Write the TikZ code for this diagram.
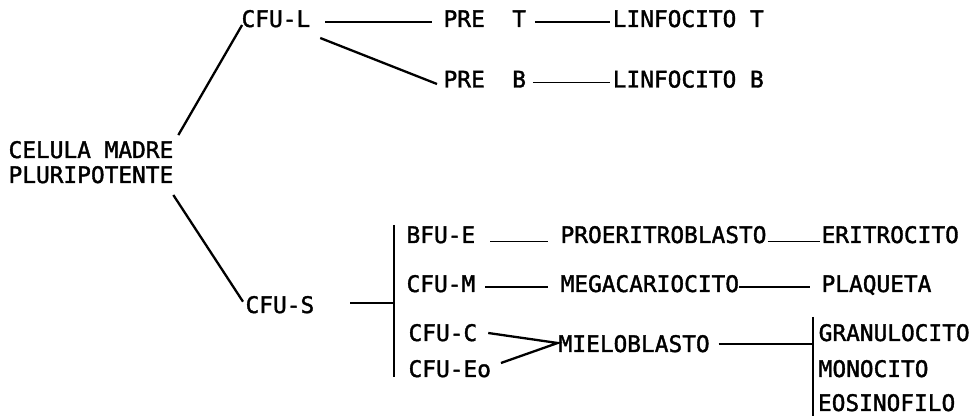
\documentclass[tikz,border=0pt]{standalone}
\usepackage{fontspec}
\newfontfamily\typewr[FakeBold=1.6]{DejaVu Sans Mono}
\usetikzlibrary{calc}
\begin{document}
\begin{tikzpicture}[x=1pt,y=-1pt,
  lbl/.style={inner sep=0pt, outer sep=0pt, anchor=base west,
              font=\typewr\fontsize{22.8}{25}\selectfont},
  link/.style={line width=1.7pt},
  diag/.style={line width=2.3pt},
  brace/.style={line width=2.4pt}]
\useasboundingbox (0,0) rectangle (978,419);

% labels (positions are left edge / baseline)
\node[lbl] (cm1)    at (8.6,158)   {CELULA MADRE};
\node[lbl] (cm2)    at (8.6,183)   {PLURIPOTENTE};
\node[lbl] (cfuL)   at (241.6,27)  {CFU-L};
\node[lbl] (preT)   at (443.6,27)  {PRE\ \ T};
\node[lbl] (linT)   at (612.8,27)  {LINFOCITO T};
\node[lbl] (preB)   at (443.6,87.5){PRE\ \ B};
\node[lbl] (linB)   at (612.8,87.5){LINFOCITO B};
\node[lbl] (cfuS)   at (245.6,313) {CFU-S};
\node[lbl] (bfuE)   at (406.6,243) {BFU-E};
\node[lbl] (cfuM)   at (406.6,292) {CFU-M};
\node[lbl] (cfuC)   at (408.6,341) {CFU-C};
\node[lbl] (cfuEo)  at (408.6,377) {CFU-Eo};
\node[lbl] (proeri) at (560.6,243) {PROERITROBLASTO};
\node[lbl] (eri)    at (821.6,243) {ERITROCITO};
\node[lbl] (mega)   at (560.6,292) {MEGACARIOCITO};
\node[lbl] (plaq)   at (821.6,292) {PLAQUETA};
\node[lbl] (mielo)  at (558.7,352) {MIELOBLASTO};
\node[lbl] (gran)   at (818.7,341) {GRANULOCITO};
\node[lbl] (mono)   at (818.7,377) {MONOCITO};
\node[lbl] (eosi)   at (818,411)   {EOSINOFILO};

% the two vertical brackets
\coordinate (b1t) at (394,225);
\coordinate (b1b) at (394,377);
\coordinate (b2t) at (813,317);
\coordinate (b2b) at (813,416);
\draw[brace] (b1t) -- (b1b);
\draw[brace] (b2t) -- (b2b);

% stem cell branches
\draw[diag] ($(cm1.north east)+(5,-6)$) -- ($(cfuL.base west)+(0.5,-2)$);
\draw[diag] ($(cm2.base east)+(0,12)$) -- ($(cfuS.north west)+(-2.6,5.6)$);

% lymphoid line
\draw[link] ($(cfuL.base east)+(15,-5)$) -- ($(preT.base west)+(-11.6,-5)$);
\draw[diag] ($(cfuL.base east)+(10,11)$) -- ($(preB.base west)+(-6.6,-3.5)$);
\draw[link] ($(preT.base east)+(9,-5)$) -- ($(linT.base west)+(-2.8,-5)$);
\draw[link] ($(preB.base east)+(7,-5)$) -- ($(linB.base west)+(-2.8,-5)$);

% myeloid line
\coordinate (sS) at ($(cfuS.base east)+(36,-10)$);
\draw[link] (sS) -- (sS -| b1t);
\draw[link] ($(bfuE.base east)+(15,-1.5)$) -- ($(proeri.base west)+(-12.6,-1.5)$);
\draw[link] ($(proeri.base east)+(1,-1.5)$) -- ($(eri.base west)+(-1.6,-1.5)$);
\draw[link] ($(cfuM.base east)+(10,-5)$) -- ($(mega.base west)+(-12.6,-5)$);
\draw[link] ($(mega.base east)+(0,-5)$) -- ($(plaq.base west)+(-11.6,-5)$);
\draw[diag] ($(cfuC.base east)+(11,-8)$) -- ($(mielo.base west)+(-1,-9)$)
            -- ($(cfuEo.base east)+(10,-14)$);
\coordinate (sM) at ($(mielo.base east)+(9,-8)$);
\draw[link] (sM) -- (sM -| b2t);
\end{tikzpicture}
\end{document}
